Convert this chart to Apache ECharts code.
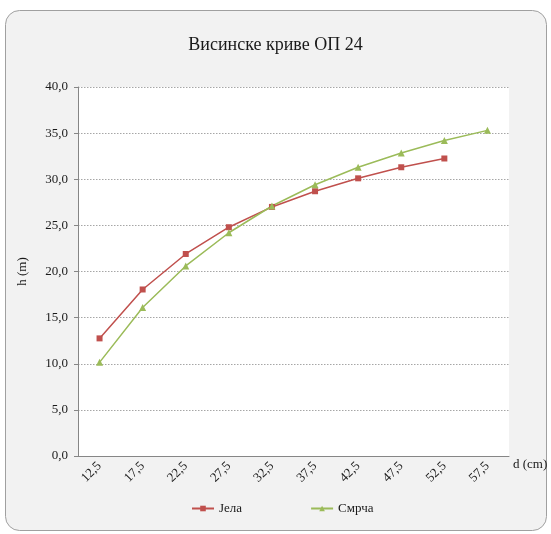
<!DOCTYPE html>
<html><head><meta charset="utf-8">
<script src="https://cdn.jsdelivr.net/npm/echarts@6/dist/echarts.min.js"></script>
<style>html,body{margin:0;padding:0;background:#fff;}#c{width:551px;height:534px;}</style>
</head><body><div id="c"></div>
<script>
var categories = ['12,5','17,5','22,5','27,5','32,5','37,5','42,5','47,5','52,5','57,5'];
var jela = [12.75, 18.05, 21.9, 24.8, 27.0, 28.7, 30.1, 31.3, 32.25, null];
var smrca = [10.15, 16.1, 20.6, 24.2, 27.1, 29.4, 31.3, 32.85, 34.2, 35.3];
var seriesNames = ['Јела', 'Смрча'];
var titleText = 'Висинске криве ОП 24';
var FONT = '"Liberation Serif", "DejaVu Serif", serif';
var chart = echarts.init(document.getElementById('c'));
chart.setOption({
  animation: false,
  backgroundColor: '#ffffff',
  graphic: [{
    type: 'rect', z: -10, silent: true,
    shape: {x: 5.5, y: 10.5, width: 541, height: 520, r: 14},
    style: {fill: '#f2f2f2', stroke: '#a0a0a0', lineWidth: 1}
  }],
  title: {
    text: titleText, left: 'center', top: 31,
    textStyle: {fontFamily: FONT, fontSize: 18, fontWeight: 'normal', color: '#1a1a1a'}
  },
  legend: {
    bottom: 14, left: 186, itemGap: 68, itemWidth: 22, itemHeight: 7,
    textStyle: {fontFamily: FONT, fontSize: 13, color: '#1a1a1a'},
    data: seriesNames
  },
  grid: {left: 78, right: 42, top: 87, bottom: 78, show: true, backgroundColor: '#ffffff', borderWidth: 0},
  xAxis: {
    type: 'category', data: categories, boundaryGap: true,
    name: 'd (cm)', nameLocation: 'end', nameGap: 4,
    nameTextStyle: {fontFamily: FONT, fontSize: 13, color: '#1a1a1a', verticalAlign: 'top', padding: [2,0,0,0]},
    axisLine: {lineStyle: {color: '#868686', width: 1}},
    axisTick: {alignWithLabel: true, length: 4, lineStyle: {color: '#868686'}},
    axisLabel: {rotate: 45, fontFamily: FONT, fontSize: 13, color: '#1a1a1a', margin: 8}
  },
  yAxis: {
    type: 'value', min: 0, max: 40, interval: 5,
    name: 'h (m)', nameLocation: 'middle', nameGap: 49, nameRotate: 90,
    nameTextStyle: {fontFamily: FONT, fontSize: 13, color: '#1a1a1a'},
    axisLine: {show: true, lineStyle: {color: '#868686', width: 1}},
    axisTick: {show: true, length: 4, lineStyle: {color: '#868686'}},
    axisLabel: {fontFamily: FONT, fontSize: 13, color: '#1a1a1a', margin: 10,
      formatter: function(v){ return v.toFixed(1).replace('.', ','); }},
    splitLine: {show: true, lineStyle: {color: '#a6a6a6', type: [1.5, 1.5], width: 1}}
  },
  series: [{
    name: seriesNames[0], type: 'line', data: jela,
    symbol: 'rect', symbolSize: 6,
    lineStyle: {color: '#c0504d', width: 1.5},
    itemStyle: {color: '#c0504d'}
  }, {
    name: seriesNames[1], type: 'line', data: smrca,
    symbol: 'triangle', symbolSize: 7,
    lineStyle: {color: '#9bbb59', width: 1.5},
    itemStyle: {color: '#9bbb59'}
  }]
});
</script></body></html>
